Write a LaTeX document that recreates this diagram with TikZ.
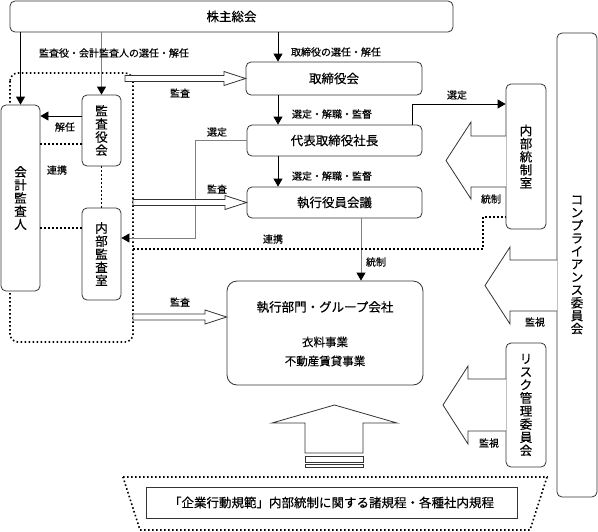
\documentclass[tikz,border=0pt]{standalone}
\usepackage{fontspec}
\setmainfont{Noto Sans CJK JP}[FakeBold=0.35]
\usetikzlibrary{arrows.meta,calc}
\tikzset{
  box/.style={draw=black!80, line width=0.8pt, rounded corners=5pt, fill=white, inner sep=0pt,
    font=\fontsize{12.5}{13.1}\selectfont, align=center},
  lbl/.style={inner sep=0pt, font=\fontsize{10}{11}\selectfont},
  txt/.style={inner sep=0pt, font=\fontsize{12.5}{13.1}\selectfont},
  subtxt/.style={inner sep=0pt, font=\fontsize{11.5}{12}\selectfont},
  conn/.style={draw=black, line width=0.8pt, -{Triangle[width=9pt,length=8pt]}},
  gconn/.style={draw=black!50, line width=0.8pt, -{Triangle[width=9pt,length=8pt,color=black]}},
  dots/.style={draw=black, line width=1.6pt, dash pattern=on 1.6pt off 2.4pt},
  hollow/.style={draw=black!80, line width=0.8pt, fill=white},
}
\begin{document}
\begin{tikzpicture}[x=1pt,y=-1pt]
\useasboundingbox (0,0) rectangle (598,531);

% group dotted frame
\draw[dots, rounded corners=8pt] (10,73) rectangle (133,342);

% boxes
\node[box, minimum width=443pt, minimum height=31pt] (kabu) at (231.5,16.5) {株主総会};
\node[box, minimum width=176pt, minimum height=33pt] (tori) at (334,78.5) {取締役会};
\node[box, minimum width=175pt, minimum height=31pt] (daihyo) at (334.5,140.5) {代表取締役社長};
\node[box, minimum width=175pt, minimum height=31pt] (shikko) at (334.5,202.5) {執行役員会議};
\node[box, rounded corners=10pt, minimum width=196pt, minimum height=104pt] (bumon) at (325,333) {};
\node[txt] (bumon1) at (325,307) {執行部門・グループ会社};
\node[subtxt] (bumon2) at (325,342) {衣料事業};
\node[subtxt] (bumon3) at (325,361) {不動産賃貸事業};
\node[box, minimum width=39pt, minimum height=186pt] (kaikei) at (20.5,198) {会\\計\\監\\査\\人};
\node[box, minimum width=39pt, minimum height=71pt] (kansayaku) at (101.5,130.5) {監\\査\\役\\会};
\node[box, minimum width=39pt, minimum height=92pt] (naibukansa) at (101.5,254) {内\\部\\監\\査\\室};
\node[box, minimum width=40pt, minimum height=145pt] (tosei) at (526,156.5) {内\\部\\統\\制\\室};
\node[box, minimum width=40pt, minimum height=464pt, font=\fontsize{12.5}{12.9}\selectfont] (comp) at (577,265)
  {コ\\ン\\プ\\ラ\\イ\\ア\\ン\\ス\\委\\員\\会};
\node[box, minimum width=40pt, minimum height=124pt] (risk) at (526,405) {リ\\ス\\ク\\管\\理\\委\\員\\会};
\node[box, rounded corners=0pt, minimum width=371pt, minimum height=31pt] (kitei) at (331.5,502.5)
  {「企業行動規範」内部統制に関する諸規程・各種社内規程};

% helper coordinates
\coordinate (xa) at (278,0);
\coordinate (xs) at (361,0);
\coordinate (xr) at (412,0);
\coordinate (xl) at (195,0);
\coordinate (xd) at (483,0);
\coordinate (xg) at (133,0);
\coordinate (y116) at (0,116);
\coordinate (y144) at (0,144);
\coordinate (y228) at (0,228);
\coordinate (y238) at (0,238);
\coordinate (y249) at (0,249);
\coordinate (y217) at (0,217);
\coordinate (y104) at (0,104);
\coordinate (y317) at (0,317);

% arrows from shareholders meeting
\draw[conn] (kaikei.north |- kabu.south) -- (kaikei.north);
\draw[gconn] (kansayaku.north |- kabu.south) -- (kansayaku.north);
\draw[conn] (xa |- kabu.south) -- (xa |- tori.north);
\draw[conn] (xa |- tori.south) -- (xa |- daihyo.north);
\draw[conn] (xa |- daihyo.south) -- (xa |- shikko.north);
\draw[gconn] (xs |- shikko.south) -- (xs |- bumon.north);

% audit board -> accounting auditor
\draw[conn] (kansayaku.west |- y116) -- (kaikei.east |- y116);
% cooperation dotted
\draw[dots] (kaikei.east |- y144) -- (kansayaku.west |- y144);
\draw[dots] (kaikei.east |- y228) -- (naibukansa.west |- y228);
\draw[dots] (kansayaku.south) -- (naibukansa.north);
\draw[dots] (xg |- y249) -- (xd |- y249) -- (xd |- y217) -- (tosei.west |- y217);

% selection lines
\draw[gconn] (daihyo.west) -- (xl |- daihyo.west) -- (xl |- y238) -- (naibukansa.east |- y238);
\draw[conn] (xr |- daihyo.north) -- (xr |- y104) -- (tosei.west |- y104);

% hollow audit arrows
\draw[hollow] (125,75.5) -- (224,75.5) -- (224,71.5) -- (tori.west) -- (224,85.5) -- (224,81.5) -- (125,81.5) -- cycle;
\draw[hollow] (133,199.5) -- (225,199.5) -- (225,195.5) -- (shikko.west) -- (225,209.5) -- (225,205.5) -- (133,205.5) -- cycle;
\draw[hollow] (133,314) -- (205,314) -- (205,310) -- (bumon.west |- y317) -- (205,324) -- (205,320) -- (133,320) -- cycle;

% big left arrows
\draw[hollow] (506,136) -- (471,136) -- (471,122) -- (446,160.5) -- (471,199) -- (471,187) -- (506,187);
\draw[hollow] (557,260) -- (510,260) -- (510,247) -- (485,285.5) -- (510,324) -- (510,311) -- (557,311);
\draw[hollow] (506,379) -- (468,379) -- (468,366) -- (443,405) -- (468,444) -- (468,431) -- (506,431);

% big up arrow
\draw[hollow] (305,453) -- (305,423) -- (272,423) -- (334.5,405) -- (397,423) -- (363,423) -- (363,453) -- cycle;
\draw[hollow] (305,456) rectangle (363,462);
\draw[hollow] (305,464.5) rectangle (363,467.5);

% dotted trapezoid
\draw[dots] (123,477) -- (547,477) -- (530,530) -- (140,530) -- cycle;

% labels
\node[lbl] (l1) at (114,53) {監査役・会計監査人の選任・解任};
\node[lbl] (l2) at (336,52) {取締役の選任・解任};
\node[lbl] (l3) at (180,93) {監査};
\node[lbl] (l4) at (65,127) {解任};
\node[lbl] (l5) at (57,170) {連携};
\node[lbl] (l6) at (217,132) {選定};
\node[lbl] (l7) at (217,189) {監査};
\node[lbl] (l8) at (180,302) {監査};
\node[lbl] (l9) at (332,114) {選定・解職・監督};
\node[lbl] (l10) at (332,176) {選定・解職・監督};
\node[lbl] (l11) at (273,239) {連携};
\node[lbl] (l12) at (376,262) {統制};
\node[lbl] (l13) at (457,95) {選定};
\node[lbl] (l14) at (491,199) {統制};
\node[lbl] (l15) at (535,322) {監視};
\node[lbl] (l16) at (489,443) {監視};
\end{tikzpicture}
\end{document}
